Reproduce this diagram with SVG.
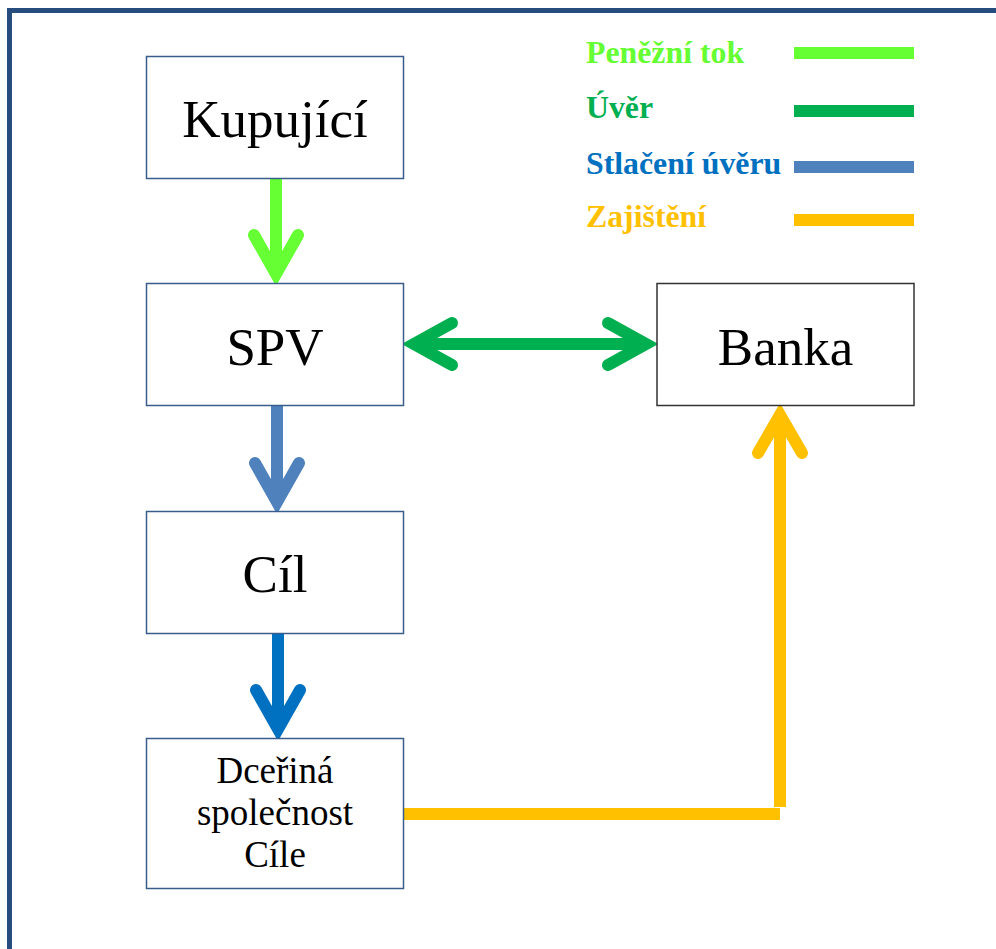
<svg xmlns="http://www.w3.org/2000/svg" width="996" height="949" viewBox="0 0 996 949">
  <style>
    .node rect { fill: #ffffff; stroke: #385d8a; stroke-width: 1.5; }
    .node text { font-family: "Liberation Serif", "Times New Roman", serif; fill: #000000; text-anchor: middle; }
    .big { font-size: 53px; }
    .small { font-size: 37px; }
    .legend text { font-family: "Liberation Serif", "Times New Roman", serif; font-size: 31.8px; font-weight: bold; }
    .legend line { stroke-width: 12; }
    .shaft { fill: none; stroke-width: 12; stroke-linecap: butt; }
    .head { fill: none; stroke-width: 12; stroke-linecap: round; stroke-linejoin: miter; stroke-miterlimit: 10; }
  </style>

  <rect width="996" height="949" fill="#ffffff"/>
  <!-- outer frame -->
  <rect x="9.5" y="10.5" width="1000" height="1000" fill="none" stroke="#264d7e" stroke-width="5"/>

  <!-- legend -->
  <g id="legend" class="legend">
    <text x="586" y="63" fill="#66ff33">Peněžní tok</text>
    <line x1="794" y1="53" x2="914" y2="53" stroke="#66ff33"/>
    <text x="586" y="118" fill="#00b050">Úvěr</text>
    <line x1="794" y1="111" x2="914" y2="111" stroke="#00b050"/>
    <text x="586" y="174" fill="#0070c0">Stlačení úvěru</text>
    <line x1="794" y1="167" x2="914" y2="167" stroke="#4f81bd"/>
    <text x="586" y="227" fill="#ffc000">Zajištění</text>
    <line x1="794" y1="220" x2="914" y2="220" stroke="#ffc000"/>
  </g>

  <!-- connectors -->
  <g id="connectors">
    <!-- Kupující -> SPV -->
    <g stroke="#66ff33">
      <line class="shaft" x1="276" y1="178" x2="276" y2="274"/>
      <polyline class="head" points="254,235 276,274 298,235"/>
    </g>
    <!-- SPV <-> Banka -->
    <g stroke="#00b050">
      <line class="shaft" x1="414" y1="344" x2="646" y2="344"/>
      <polyline class="head" points="452,323 414,344 452,365"/>
      <polyline class="head" points="608,323 646,344 608,365"/>
    </g>
    <!-- SPV -> Cíl -->
    <g stroke="#4f81bd">
      <line class="shaft" x1="277" y1="405" x2="277" y2="502"/>
      <polyline class="head" points="255,463 277,502 299,463"/>
    </g>
    <!-- Cíl -> Dceřiná společnost Cíle -->
    <g stroke="#0070c0">
      <line class="shaft" x1="278" y1="633" x2="278" y2="729"/>
      <polyline class="head" points="256,690 278,729 300,690"/>
    </g>
    <!-- Dceřiná společnost Cíle -> Banka -->
    <g stroke="#ffc000">
      <line class="shaft" x1="403" y1="814" x2="780" y2="814"/>
      <line class="shaft" x1="780" y1="807" x2="780" y2="415"/>
      <polyline class="head" points="758,453 780,415 802,453"/>
    </g>
  </g>

  <!-- nodes -->
  <g id="kupujici" class="node">
    <rect x="146.5" y="56.5" width="257" height="122"/>
    <text class="big" x="275" y="137">Kupující</text>
  </g>
  <g id="spv" class="node">
    <rect x="146.5" y="283.5" width="257" height="122"/>
    <text class="big" x="275" y="365">SPV</text>
  </g>
  <g id="cil" class="node">
    <rect x="146.5" y="511.5" width="257" height="122"/>
    <text class="big" x="275" y="592">Cíl</text>
  </g>
  <g id="dcerina" class="node">
    <rect x="146.5" y="738.5" width="257" height="150"/>
    <text class="small" x="275" y="783">Dceřiná</text>
    <text class="small" x="275" y="825">společnost</text>
    <text class="small" x="275" y="867">Cíle</text>
  </g>
  <g id="banka" class="node">
    <rect x="657" y="283.5" width="257" height="122" style="stroke:#333333"/>
    <text class="big" x="785.5" y="365">Banka</text>
  </g>
</svg>
